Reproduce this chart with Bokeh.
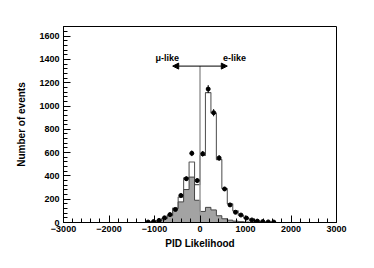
from bokeh.plotting import figure
from bokeh.models import SingleIntervalTicker, Arrow, NormalHead, ColumnDataSource
from bokeh.core.properties import value
from bokeh.embed import file_html
from bokeh.resources import INLINE

# ---- data ----
bin_centers = [-1140, -1020, -900, -780, -660, -540, -420, -300, -180, -60,
               60, 180, 300, 420, 540, 660, 780, 900, 1020, 1140, 1260, 1380, 1500, 1620]
bin_width = 120

data_counts = [4, 8, 18, 40, 68, 112, 232, 376, 594, 360,
               590, 1146, 943, 554, 288, 151, 88, 64, 38, 22, 12, 8, 5, 4]
data_errors = [2, 3, 4, 6, 8, 11, 15, 19, 24, 19,
               24, 34, 31, 24, 17, 12, 9, 8, 6, 5, 3, 3, 2, 2]
mc_total = [3, 6, 14, 35, 65, 125, 218, 383, 520, 325,
            575, 1115, 940, 540, 292, 160, 100, 62, 36, 20, 12, 7, 4, 2]
mc_mulike = [3, 5, 13, 32, 58, 118, 177, 283, 390, 191,
             95, 130, 108, 58, 32, 20, 12, 7, 4, 3, 2, 1, 1, 0]

x_ticks_major = 1000
y_ticks_major = 200
cut_value = 0
arrow_y = 1343
arrow_reach = 600
label_y = 1415
mu_label_x = -718
e_label_x = 760

FONT = "Liberation Sans"

# ---- derived step coordinates ----
edges = [c - bin_width / 2 for c in bin_centers] + [bin_centers[-1] + bin_width / 2]
step_x = [edges[0]] + edges
mc_step_y = [0] + mc_total + [0]
mu_step_y = [0] + mc_mulike + [0]
mu_area_y = mc_mulike + [mc_mulike[-1]]

p = figure(frame_width=273, frame_height=196,
           min_border_left=63, min_border_right=30, min_border_top=26, min_border_bottom=38,
           x_range=(-3000, 3000), y_range=(0, 1683),
           output_backend="svg", toolbar_location=None)
p.background_fill_color = "white"
p.border_fill_color = "white"
p.outline_line_color = "black"
p.outline_line_width = 1
p.xgrid.visible = False
p.ygrid.visible = False

# total MC outline (drawn first, covered by mu-like fill)
p.step(step_x, mc_step_y, mode="after", line_color="#5a5a5a", line_width=1.1)

# mu-like MC filled histogram
p.varea_step(x=edges, y1=[0] * len(edges), y2=mu_area_y, step_mode="after",
             fill_color="#a3a3a3")
p.step(step_x, mu_step_y, mode="after", line_color="#444444", line_width=1)

# cut line and arrows
p.segment(x0=[cut_value], y0=[0], x1=[cut_value], y1=[arrow_y],
          line_color="#9a9a9a", line_width=1.5)
for end_x in (cut_value - arrow_reach, cut_value + arrow_reach):
    p.add_layout(Arrow(end=NormalHead(size=6, fill_color="black", line_color="black", line_width=1),
                       x_start=cut_value, y_start=arrow_y, x_end=end_x, y_end=arrow_y,
                       line_color="black", line_width=1))
p.text(x=[mu_label_x, e_label_x], y=[label_y, label_y], text=["\u03bc-like", "e-like"],
       text_font=value(FONT), text_font_style="bold", text_font_size="9px",
       text_align="center", text_baseline="middle", text_color="black")

# data points with error bars
src = ColumnDataSource(dict(
    x=bin_centers, y=data_counts,
    lo=[c - e for c, e in zip(data_counts, data_errors)],
    hi=[c + e for c, e in zip(data_counts, data_errors)],
    xl=[c - 30 for c in bin_centers], xr=[c + 30 for c in bin_centers]))
p.segment(x0="x", y0="lo", x1="x", y1="hi", source=src, line_color="black", line_width=1)
p.segment(x0="xl", y0="y", x1="xr", y1="y", source=src, line_color="black", line_width=1)
p.scatter("x", "y", source=src, size=4, marker="circle", fill_color="black", line_color="black")

# axes
p.xaxis.ticker = SingleIntervalTicker(interval=x_ticks_major, num_minor_ticks=5)
p.yaxis.ticker = SingleIntervalTicker(interval=y_ticks_major, num_minor_ticks=5)
for ax in (p.xaxis[0], p.yaxis[0]):
    ax.major_tick_in = 7
    ax.major_tick_out = 0
    ax.minor_tick_in = 4
    ax.minor_tick_out = 0
    ax.axis_line_color = "black"
    ax.major_tick_line_color = "black"
    ax.minor_tick_line_color = "black"
    ax.major_label_text_font = FONT
    ax.major_label_text_font_style = "bold"
    ax.major_label_text_font_size = "9px"
    ax.major_label_text_color = "black"
    ax.axis_label_text_font = FONT
    ax.axis_label_text_font_style = "bold"
    ax.axis_label_text_color = "black"

p.xaxis.axis_label = "PID Likelihood"
p.xaxis.axis_label_text_font_size = "10px"
p.xaxis.major_label_standoff = 3
p.xaxis.axis_label_standoff = 3
p.yaxis.axis_label = "Number of events"
p.yaxis.axis_label_text_font_size = "10px"
p.yaxis.major_label_standoff = 4
p.yaxis.axis_label_standoff = 9

open("out.html", "w").write(file_html(p, INLINE))
